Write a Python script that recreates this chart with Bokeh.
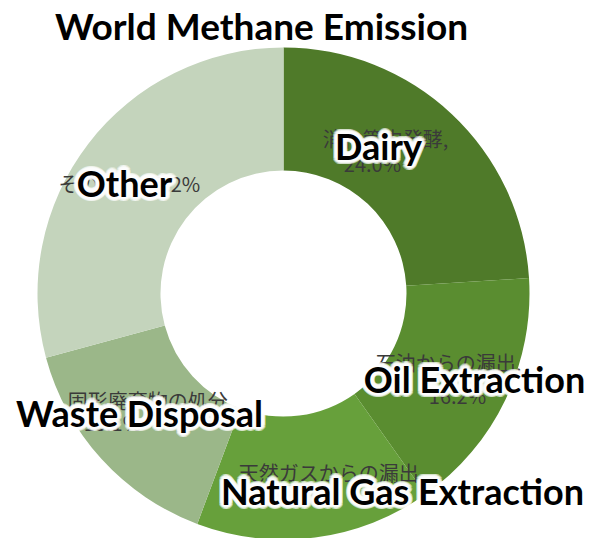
import numpy as np
from bokeh.plotting import figure
from bokeh.models import Range1d
from bokeh.core.properties import value
from bokeh.embed import file_html
from bokeh.resources import INLINE

# ---- data ----
categories = ["Dairy", "Oil Extraction", "Natural Gas Extraction", "Waste Disposal", "Other"]
jp_names = ["消化管内発酵", "石油からの漏出", "天然ガスからの漏出", "固形廃棄物の処分", "その他"]
shares = [24.0, 16.2, 15.5, 15.1, 29.2]
colors = ["#4f7a29", "#5a8d30", "#67a03b", "#9bb789", "#c4d4bc"]
title_text = "World Methane Emission"

# ---- figure (1 data unit = 1 screen pixel; y = 538 - page y) ----
p = figure(width=593, height=538, x_range=Range1d(0, 593), y_range=Range1d(0, 538),
           output_backend="svg", toolbar_location=None, min_border=0)
p.axis.visible = False
p.grid.visible = False
p.outline_line_color = None
p.background_fill_color = "white"

def Y(py):
    return 538 - py

cx, cy = 283, Y(293)
r_out, r_in = 246, 123

fr = np.array(shares) / np.sum(shares)
cum = np.concatenate([[0], np.cumsum(fr)])
starts = np.pi / 2 - 2 * np.pi * cum[:-1]
ends = np.pi / 2 - 2 * np.pi * cum[1:]
p.annular_wedge(x=cx, y=cy, inner_radius=r_in, outer_radius=r_out,
                start_angle=list(starts), end_angle=list(ends), direction="clock",
                fill_color=colors, line_color=None)

# ---- Japanese underlying labels ----
JP_FONT = value("Noto Sans CJK JP")
jp_pos = [
    [(f"{jp_names[0]},", 385, 138, "center"), (f"{shares[0]}%", 372, 163, "center")],
    [(f"{jp_names[1]},", 448, 362, "center"), (f"{shares[1]}%", 457, 395, "center")],
    [(f"{jp_names[2]},", 331, 472, "center"), (f"{shares[2]}%", 300, 497, "center")],
    [(f"{jp_names[3]},", 150, 400, "center"), (f"{shares[3]}%", 112, 422, "center")],
    [(f"{jp_names[4]}，  {shares[4]}%", 58, 183, "left")],
]
for lines in jp_pos:
    for t, x, y, al in lines:
        p.text(x=[x], y=[Y(y)], text=[t], text_font=JP_FONT, text_font_size="20px",
               text_color="#3a3a3a", text_align=al, text_baseline="middle")

# ---- English labels with white glow ----
EN_FONT = value("Lato")
FS = "36px"
en_pos = [(categories[0], 378, 145), (categories[1], 474, 378),
          (categories[2], 402, 490), (categories[3], 139, 412),
          (categories[4], 124, 182)]
offsets = []
for rad, n in [(4.5, 20), (3.2, 16), (2.0, 12), (1.0, 8)]:
    for k in range(n):
        a = 2 * np.pi * k / n
        offsets.append((rad * np.cos(a), rad * np.sin(a)))
for t, x, y in en_pos:
    for dx, dy in offsets:
        p.text(x=[x], y=[Y(y)], text=[t], x_offset=dx, y_offset=dy, text_font=EN_FONT,
               text_font_size=FS, text_font_style="bold", text_color="white",
               text_alpha=0.4, text_align="center", text_baseline="middle")
    p.text(x=[x], y=[Y(y)], text=[t], text_font=EN_FONT, text_font_size=FS,
           text_font_style="bold", text_color="black", text_align="center",
           text_baseline="middle")

# ---- title ----
p.text(x=[261], y=[Y(25)], text=[title_text], text_font=EN_FONT, text_font_size="37px",
       text_font_style="bold", text_color="black", text_align="center", text_baseline="middle")

open("out.html", "w").write(file_html(p, INLINE))
